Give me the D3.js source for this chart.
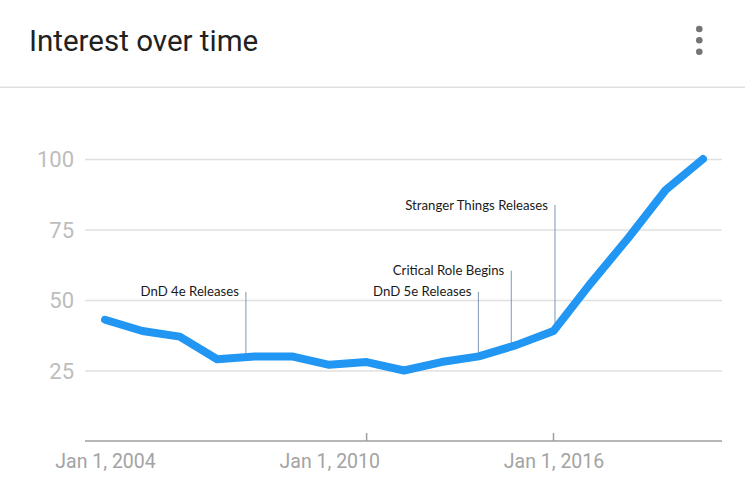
<!DOCTYPE html>
<html>
<head>
<meta charset="utf-8">
<script src="https://cdn.jsdelivr.net/npm/d3@7"></script>
<style>
    body { margin: 0; background: #fff; }
    svg { display: block; }
</style>
</head>
<body>
<svg id="chart" width="745" height="501"></svg>
<script>
// Données
const years = [2004, 2005, 2006, 2007, 2008, 2009, 2010, 2011, 2012, 2013, 2014, 2015, 2016, 2017, 2018, 2019, 2020];
const interest = [43, 39, 37, 29, 30, 30, 27, 28, 25, 28, 30, 34, 39, 56, 72, 89, 100];

const yTicks = [25, 50, 75, 100];
const xLabelYears = [2004, 2010, 2016];
const xLabels = ['Jan 1, 2004', 'Jan 1, 2010', 'Jan 1, 2016'];
const xTickMarks = [2011, 2016];

const eventNames = ['DnD 4e Releases', 'DnD 5e Releases', 'Critical Role Begins', 'Stranger Things Releases'];
const eventYears = [2007.77, 2013.99, 2014.87, 2016.04];
const eventTops = [52.9, 52.9, 60.4, 83.7];

const svg = d3.select('#chart');
const width = +svg.attr('width');

// En-tête de la carte
svg.append('text')
    .attr('x', 29)
    .attr('y', 51)
    .attr('font-family', 'Roboto')
    .attr('font-size', 29.5)
    .attr('fill', '#212121')
    .text('Interest over time');

svg.selectAll('.dot')
    .data([29, 40.3, 51.7])
    .enter().append('circle')
    .attr('class', 'dot')
    .attr('cx', 699.3)
    .attr('cy', d => d)
    .attr('r', 3.3)
    .attr('fill', '#757575');

svg.append('line')
    .attr('x1', 0).attr('x2', width)
    .attr('y1', 87.3).attr('y2', 87.3)
    .attr('stroke', '#e0e0e0')
    .attr('stroke-width', 1.5);

// Échelles
const left = 85, right = 722;
const xScale = d3.scaleLinear().domain([2004, 2020]).range([105, 703]);
const yScale = d3.scaleLinear().domain([0, 100]).range([441, 159]);

// Grille horizontale
const yAxis = d3.axisLeft(yScale)
    .tickValues(yTicks)
    .tickSize(left - right)
    .tickPadding(11);

const gy = svg.append('g')
    .attr('transform', `translate(${left},0)`)
    .call(yAxis);
gy.select('.domain').remove();
gy.selectAll('.tick line')
    .attr('stroke', '#e0e0e0')
    .attr('stroke-width', 1.5);
gy.selectAll('.tick text')
    .attr('font-family', 'Roboto')
    .attr('font-size', 22)
    .attr('fill', '#bdbdbd')
    .attr('x', -11)
    .attr('dy', '0.35em');

// Axe horizontal
svg.append('line')
    .attr('x1', left).attr('x2', right)
    .attr('y1', yScale(0)).attr('y2', yScale(0))
    .attr('stroke', '#9e9e9e')
    .attr('stroke-width', 1.5);

svg.selectAll('.tickmark')
    .data(xTickMarks)
    .enter().append('line')
    .attr('class', 'tickmark')
    .attr('x1', d => xScale(d)).attr('x2', d => xScale(d))
    .attr('y1', yScale(0) - 8).attr('y2', yScale(0))
    .attr('stroke', '#9e9e9e')
    .attr('stroke-width', 1.5);

const xAxis = d3.axisBottom(xScale)
    .tickValues(xLabelYears)
    .tickFormat((d, i) => xLabels[i])
    .tickSize(0)
    .tickPadding(8);

const gx = svg.append('g')
    .attr('transform', `translate(0,${yScale(0)})`)
    .call(xAxis);
gx.select('.domain').remove();
gx.selectAll('.tick text')
    .attr('font-family', 'Roboto')
    .attr('font-size', 19.5)
    .attr('fill', '#a3a3a3')
    .attr('dy', '0.95em');

// Annotations
const points = years.map((y, i) => ({ year: y, value: interest[i] }));
const interp = yr => {
    const i = Math.min(Math.floor(yr - 2004), years.length - 2);
    const t = yr - years[i];
    return interest[i] + (interest[i + 1] - interest[i]) * t;
};

const events = eventNames.map((name, i) => ({ name, year: eventYears[i], top: eventTops[i] }));

svg.selectAll('.event-line')
    .data(events)
    .enter().append('line')
    .attr('class', 'event-line')
    .attr('x1', d => xScale(d.year)).attr('x2', d => xScale(d.year))
    .attr('y1', d => yScale(d.top))
    .attr('y2', d => yScale(interp(d.year)))
    .attr('stroke', '#7f97b4')
    .attr('stroke-width', 1);

svg.selectAll('.event-label')
    .data(events)
    .enter().append('text')
    .attr('class', 'event-label')
    .attr('x', d => xScale(d.year) - 7)
    .attr('y', d => yScale(d.top))
    .attr('dy', '0.35em')
    .attr('text-anchor', 'end')
    .attr('font-family', 'Lato')
    .attr('font-size', 13.2)
    .attr('fill', '#1a1a1a')
    .text(d => d.name);

// Courbe principale
const line = d3.line()
    .x(d => xScale(d.year))
    .y(d => yScale(d.value));

svg.append('path')
    .datum(points)
    .attr('d', line)
    .attr('fill', 'none')
    .attr('stroke', '#2196f3')
    .attr('stroke-width', 8)
    .attr('stroke-linejoin', 'round')
    .attr('stroke-linecap', 'round');
</script>
</body>
</html>
